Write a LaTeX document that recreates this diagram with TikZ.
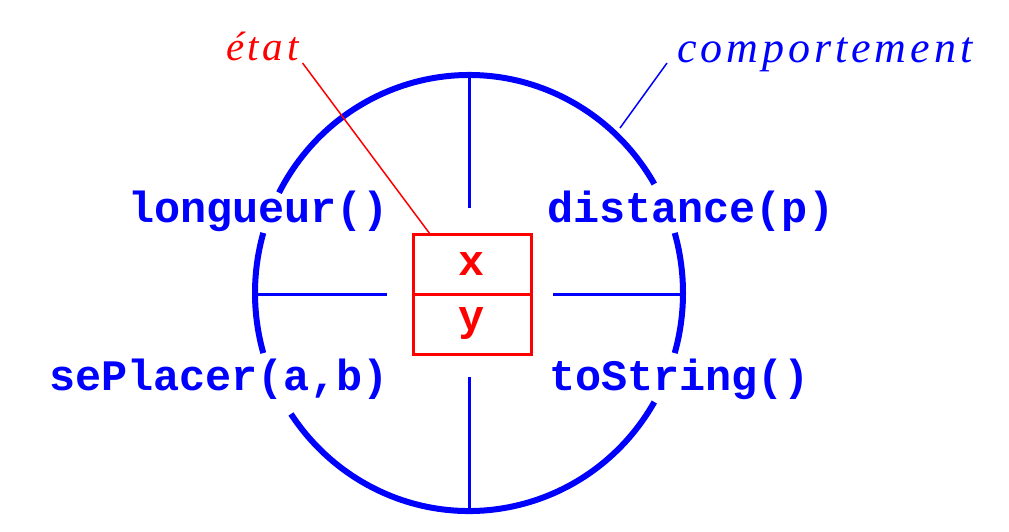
\documentclass[tikz,border=0pt]{standalone}
\usepackage{fontspec}
\setmainfont{Liberation Serif}
\setmonofont{Liberation Mono}
\newfontfamily\spacedserif[LetterSpace=9]{Liberation Serif}
\definecolor{pblue}{RGB}{0,0,255}
\definecolor{pred}{RGB}{255,0,0}
\begin{document}
\begin{tikzpicture}[x=1pt,y=-1pt,every node/.style={inner sep=0pt,outer sep=0pt}]
\tikzset{
  rim/.style={draw=pblue,line width=6pt},
  spoke/.style={draw=pblue,line width=3pt},
  method/.style={font=\ttfamily\bfseries\fontsize{43.5}{44}\selectfont,text=pblue,anchor=base west},
  cell/.style={draw=pred,line width=3pt,minimum width=118pt,minimum height=60pt,
    font=\ttfamily\bfseries\fontsize{43.5}{44}\selectfont,text=pred},
  note/.style={font=\spacedserif\itshape,anchor=base west},
  redleader/.style={draw=pred,line width=1.5pt},
  blueleader/.style={draw=pblue,line width=1.5pt}
}
\useasboundingbox (0,0) rectangle (1009,531);
% rim of the object (broken circle)
\draw[rim] (469,293) ++(-152.6:214 and 218) arc[start angle=-152.6,end angle=-30,x radius=214,y radius=218];
\draw[rim] (469,293) ++(-16:214 and 218) arc[start angle=-16,end angle=16,x radius=214,y radius=218];
\draw[rim] (469,293) ++(30:214 and 218) arc[start angle=30,end angle=146.3,x radius=214,y radius=218];
\draw[rim] (469,293) ++(164:214 and 218) arc[start angle=164,end angle=196,x radius=214,y radius=218];
% spokes
\coordinate (ctop) at (469,75);
\coordinate (cbot) at (469,511);
\coordinate (cleft) at (256,294);
\coordinate (cright) at (683,294);
\coordinate (itop) at (469,208);
\coordinate (ibot) at (469,377);
\coordinate (ileft) at (387,294);
\coordinate (iright) at (553,294);
\draw[spoke] (ctop) -- (itop);
\draw[spoke] (ibot) -- (cbot);
\draw[spoke] (cleft) -- (ileft);
\draw[spoke] (iright) -- (cright);
% state box
\node[cell] (cx) at (472,264) {x};
\node[cell] (cy) at (472,324) {y};
% methods
\node[method] (m1) at (128,222) {longueur()};
\node[method] (m2) at (547,222) {distance(p)};
\node[method] (m3) at (49,390) {sePlacer(a,b)};
\node[method] (m4) at (549,390) {toString()};
% labels
\node[note,text=pred,font=\spacedserif\itshape\fontsize{41}{42}\selectfont] (etat) at (226,60) {état};
\node[note,text=pblue,font=\spacedserif\itshape\fontsize{44}{45}\selectfont] (comp) at (677,62) {comportement};
\coordinate (rimpt) at (620,128);
\draw[redleader] ([shift={(4,3)}]etat.base east) -- ([xshift=17pt]cx.north west);
\draw[blueleader] ([shift={(-10,1)}]comp.base west) -- (rimpt);
\end{tikzpicture}
\end{document}
